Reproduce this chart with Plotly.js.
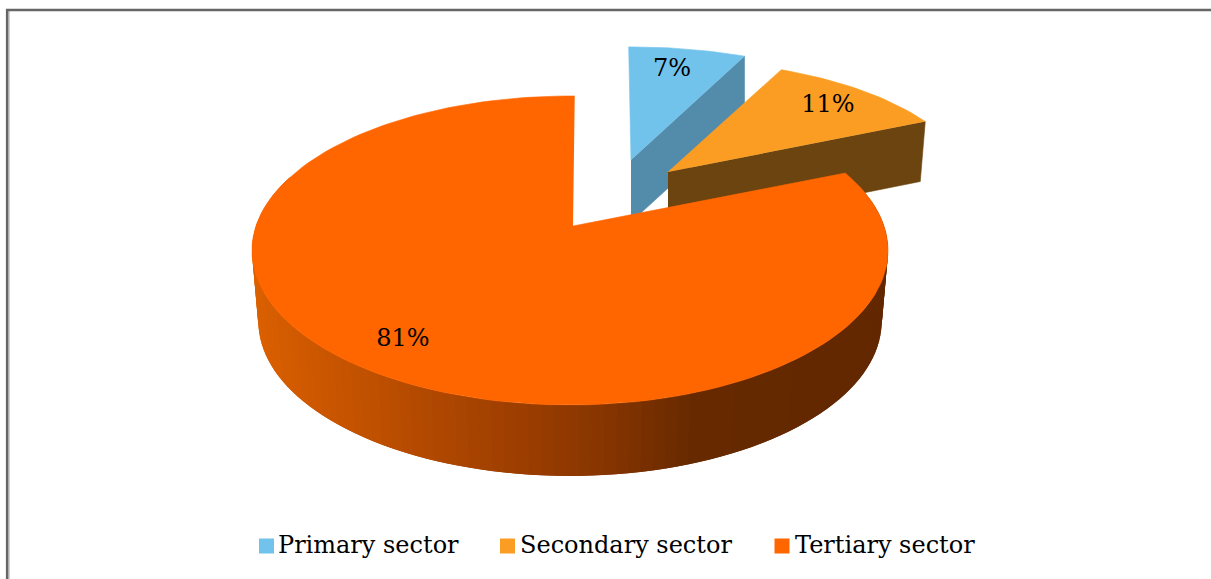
<!DOCTYPE html>
<html><head><meta charset="utf-8">
<script src="https://cdn.plot.ly/plotly-3.0.1.min.js"></script>
<style>html,body{margin:0;padding:0;background:#fff;overflow:hidden}#c{width:1211px;height:579px}</style>
</head><body><div id="c"></div>
<script>
const categories = ['Primary sector','Secondary sector','Tertiary sector'];
const shares = [7,11,81];
const topColors = ['#72c3ec','#fb9d22','#ff6600'];
const cutColors = ['#538cab','#6b440f'];
const sideStopX = [251,400,500,600,700,887];
const sideStopRGB = [[219,96,0],[184,76,0],[160,64,0],[136,53,0],[102,41,0],[99,40,0]];
const labelX = [672,828,403], labelY = [70,106,340];
const keyX = [266.5,507.5,782], keyY = 546, keyTextX = [278,520,795], keyTextY = 547;
const FONT = 'DejaVu Serif, serif';

const total = shares.reduce((a,b)=>a+b,0);
const ROT = 1.5, P = 0.1586, A = 314, B = 150.6, CX = 570;
const rad = d=>d*Math.PI/180;
// perspective projection of a disc, relative to its centre
function proj(deg){
  const u=Math.sin(rad(deg)), v=Math.cos(rad(deg)), w=1+P*v;
  return [A*u/w, -B*v/w];
}
const ang=[ROT]; shares.forEach((s,i)=>ang.push(ang[i]+s/total*360));
function arc(a0,a1,n){const o=[];for(let i=0;i<=n;i++)o.push(proj(a0+(a1-a0)*i/n));return o;}
function poly(pts,color,lineW){
  return {type:'scatter',mode:'lines',x:pts.map(p=>p[0]),y:pts.map(p=>p[1]),
    fill:'toself',fillcolor:color,line:{color:color,width:lineW===undefined?0.6:lineW},hoverinfo:'skip',showlegend:false};
}
function sideColor(x){
  for(let i=0;i<sideStopX.length-1;i++){
    if(x<=sideStopX[i+1]){
      const t=Math.max(0,(x-sideStopX[i])/(sideStopX[i+1]-sideStopX[i]));
      const c=sideStopRGB[i].map((v,k)=>Math.round(v+(sideStopRGB[i+1][k]-v)*t));
      return `rgb(${c})`;
    }
  }
  return `rgb(${sideStopRGB[sideStopRGB.length-1]})`;
}
const traces=[];

// primary slice (pulled out, further back so drawn smaller)
const pApex=[631,160], pSX=.98, pSY=.87, pDepth=62, pTurn=-2;
const pArc=arc(ang[0]+pTurn,ang[1]+pTurn,24).map(p=>[pApex[0]+p[0]*pSX,pApex[1]+p[1]*pSY]);
const pEnd=pArc[pArc.length-1];
traces.push(poly([pApex,pEnd,[pEnd[0],pEnd[1]+pDepth],[pApex[0],pApex[1]+pDepth]],cutColors[0]));
traces.push(poly([pApex,...pArc],topColors[0]));

// secondary slice
const sApex=[668,172], sSX=.96, sSY=.86, sDepth=60, sTurn=-1.5;
const sArc=arc(ang[1]+sTurn,ang[2]+sTurn,24).map(p=>[sApex[0]+p[0]*sSX,sApex[1]+p[1]*sSY]);
const sEnd=sArc[sArc.length-1];
traces.push(poly([sApex,sEnd,[sEnd[0]-5,sEnd[1]+sDepth],[sApex[0],sApex[1]+sDepth]],cutColors[1]));
traces.push(poly([sApex,...sArc],topColors[1]));

// tertiary side wall, cut into narrow overlapping bands for the shading
const tApex=[573,226], DEPTH=71, BOTX=.98, N=110, STEP=(290-75)/N;
for(let i=0;i<N;i++){
  const a0=75+STEP*i, a1=a0+STEP*2;
  const p0=proj(a0), p1=proj(Math.min(a1,290)), pm=proj(a0+STEP/2);
  const q=[[CX+p0[0],tApex[1]+p0[1]],[CX+p1[0],tApex[1]+p1[1]],
           [CX+p1[0]*BOTX,tApex[1]+p1[1]+DEPTH],[CX+p0[0]*BOTX,tApex[1]+p0[1]+DEPTH]];
  traces.push(poly(q,sideColor(CX+pm[0]),0));
}
// tertiary top
const tGapStart=1.2, tGapEnd=0.5;
const tArc=arc(ang[2]+tGapStart,ang[3]-tGapEnd,150).map(p=>[CX+p[0],tApex[1]+p[1]]);
traces.push(poly([tApex,...tArc],topColors[2]));

// value labels
traces.push({type:'scatter',mode:'text',x:labelX,y:labelY,text:shares.map(s=>s+'%'),
  textposition:'middle center',textfont:{family:FONT,size:24,color:'#000'},hoverinfo:'skip',showlegend:false});
// legend keys and names
traces.push({type:'scatter',mode:'markers',x:keyX,y:keyX.map(()=>keyY),
  marker:{symbol:'square',size:15,color:topColors,line:{width:0}},hoverinfo:'skip',showlegend:false});
traces.push({type:'scatter',mode:'text',x:keyTextX,y:keyTextX.map(()=>keyTextY),text:categories,
  textposition:'middle right',textfont:{family:FONT,size:24,color:'#000'},hoverinfo:'skip',showlegend:false});
// frame
const frame=[
 {type:'line',xref:'x',yref:'y',x0:7.2,x1:7.2,y0:9,y1:579,line:{color:'#666',width:2.6}},
 {type:'line',xref:'x',yref:'y',x0:9,x1:9,y0:11,y1:579,line:{color:'#aaa',width:1}},
 {type:'line',xref:'x',yref:'y',x0:6,x1:1211,y0:10,y1:10,line:{color:'#666',width:2.4}}
];
Plotly.newPlot('c',traces,{
  width:1211,height:579,margin:{l:0,r:0,t:0,b:0},showlegend:false,
  paper_bgcolor:'#fff',plot_bgcolor:'#fff',
  xaxis:{range:[0,1211],visible:false,fixedrange:true},
  yaxis:{range:[579,0],visible:false,fixedrange:true},
  shapes:frame
},{displayModeBar:false,staticPlot:true});
</script></body></html>
